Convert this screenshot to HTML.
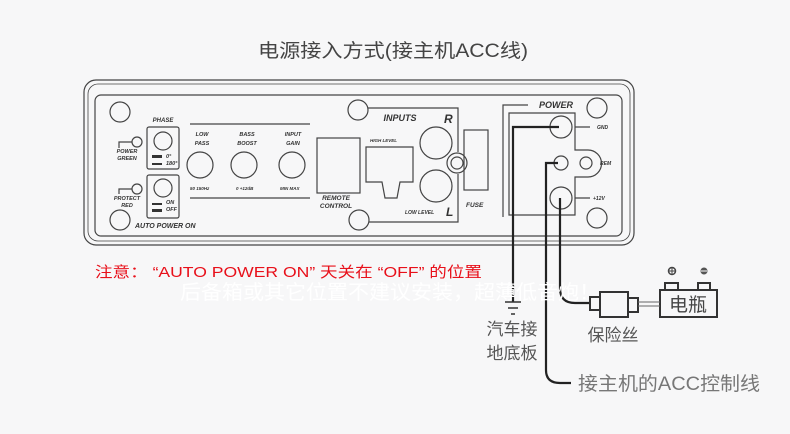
<!DOCTYPE html>
<html><head><meta charset="utf-8"><style>
html,body{margin:0;padding:0;background:#f7f7f8;}
svg{display:block}
.t{font-family:"Liberation Sans",sans-serif;font-style:italic;font-weight:bold;fill:#333}
.c{font-family:"Liberation Sans","Noto Sans CJK SC",sans-serif}
</style></head><body>
<svg width="790" height="434" viewBox="0 0 790 434" xmlns="http://www.w3.org/2000/svg">
<rect width="790" height="434" fill="#f7f7f8"/>
<text x="258" y="57" textLength="270" lengthAdjust="spacingAndGlyphs" class="c" font-size="19" fill="#444">电源接入方式(接主机ACC线)</text>
<g fill="none" stroke="#444" stroke-width="1.2">
<rect x="84" y="80" width="550" height="165" rx="12"/>
<rect x="88" y="84" width="542" height="157" rx="10" stroke-width="0.8"/>
<rect x="95" y="95" width="527" height="141" rx="6"/>
<circle cx="120" cy="112" r="10"/><circle cx="120" cy="220" r="10"/>
<circle cx="137" cy="142" r="5"/><path d="M132 142H119V148"/>
<circle cx="137" cy="189" r="5"/><path d="M132 189H119V194"/>
<rect x="147" y="127" width="32" height="42" rx="2"/><circle cx="163" cy="141" r="9"/>
<rect x="147" y="175" width="32" height="43" rx="2"/><circle cx="163" cy="188" r="9"/>
<path d="M190 124H310M190 198H310"/>
<circle cx="200" cy="165" r="13"/><circle cx="244" cy="165" r="13"/><circle cx="292" cy="165" r="13"/>
<rect x="317" y="138" width="43" height="55"/>
<circle cx="358" cy="110" r="10"/><circle cx="359" cy="220" r="10"/>
<path d="M368 108H458V152M458 174V222H369"/>
<circle cx="457" cy="163" r="10"/><circle cx="457" cy="163" r="6"/>
<path d="M366 147H413V182H400L397 198H385L382 182H366Z"/>
<circle cx="436" cy="143" r="16"/><circle cx="436" cy="186" r="16"/>
<rect x="464" y="130" width="24" height="60"/>
<path d="M528 105H503V217"/>
<path d="M509 113H575V150H588A13 13 0 0 1 588 177H575V215H509Z"/>
<circle cx="561" cy="127" r="11"/><circle cx="561" cy="163" r="7"/><circle cx="586" cy="163" r="6"/><circle cx="561" cy="198" r="11"/>
<path d="M575 127H590M575 198H590"/>
<circle cx="597" cy="108" r="10"/><circle cx="597" cy="218" r="10"/>
</g>
<g fill="#333"><rect x="152" y="155" width="10" height="3"/><rect x="152" y="163" width="10" height="2"/><rect x="152" y="203" width="10" height="2"/><rect x="152" y="209" width="10" height="3"/></g>
<g class="t" font-size="5.5">
<text x="163" y="122" text-anchor="middle" font-size="6">PHASE</text>
<text x="127" y="153" text-anchor="middle">POWER</text><text x="127" y="160" text-anchor="middle">GREEN</text>
<text x="127" y="200" text-anchor="middle">PROTECT</text><text x="127" y="207" text-anchor="middle">RED</text>
<text x="166" y="158">0°</text><text x="166" y="165">180°</text>
<text x="166" y="204">ON</text><text x="166" y="211">OFF</text>
<text x="135" y="228" font-size="7">AUTO POWER ON</text>
<text x="202" y="136" text-anchor="middle">LOW</text><text x="202" y="145" text-anchor="middle">PASS</text>
<text x="247" y="136" text-anchor="middle">BASS</text><text x="247" y="145" text-anchor="middle">BOOST</text>
<text x="293" y="136" text-anchor="middle">INPUT</text><text x="293" y="145" text-anchor="middle">GAIN</text>
<text x="190" y="190" font-size="4.5">50 150Hz</text><text x="236" y="190" font-size="4.5">0 +12dB</text><text x="280" y="190" font-size="4.5">MIN MAX</text>
<text x="336" y="200" text-anchor="middle" font-size="6.5">REMOTE</text><text x="336" y="208" text-anchor="middle" font-size="6.5">CONTROL</text>
<text x="400" y="121" text-anchor="middle" font-size="9">INPUTS</text>
<text x="444" y="123" font-size="12">R</text><text x="446" y="216" font-size="12">L</text>
<text x="370" y="142" font-size="4.5">HIGH LEVEL</text><text x="405" y="214" font-size="5">LOW LEVEL</text>
<text x="466" y="207" font-size="6.5">FUSE</text>
<text x="556" y="108" text-anchor="middle" font-size="9">POWER</text>
<text x="597" y="129" font-size="5">GND</text><text x="600" y="165" font-size="5">REM</text><text x="593" y="200" font-size="5">+12V</text>
</g>
<g fill="none" stroke="#222" stroke-width="2.2">
<path d="M559 127H513V302"/>
<path d="M558 163H546V370Q546 383 560 383H571"/>
<path d="M560 198V288Q560 303 575 303H590"/>
</g>
<g stroke="#333" stroke-width="1.5"><path d="M505 302H521M508 308H518M511 314H515"/></g>
<g fill="none" stroke="#333" stroke-width="2">
<rect x="590" y="297" width="10" height="13"/><rect x="600" y="292" width="28" height="25"/><rect x="628" y="298" width="10" height="14"/>
<rect x="660" y="290" width="57" height="27"/><rect x="665" y="283" width="13" height="7"/><rect x="698" y="283" width="12" height="7"/>
</g>
<g stroke="#666" stroke-width="1"><path d="M638 302H660M638 306H660"/></g>
<circle cx="672" cy="271" r="3.5" fill="none" stroke="#444" stroke-width="1.5"/><path d="M669 271h6M672 268v6" stroke="#444"/>
<circle cx="704" cy="271" r="3.5" fill="#555"/><path d="M701 271h6" stroke="#fff"/>
<text x="688" y="311" text-anchor="middle" class="c" font-size="19" fill="#444">电瓶</text>
<text x="613" y="341" text-anchor="middle" class="c" font-size="17" fill="#555">保险丝</text>
<text x="512" y="335" text-anchor="middle" class="c" font-size="17" fill="#555">汽车接</text>
<text x="512" y="359" text-anchor="middle" class="c" font-size="17" fill="#555">地底板</text>
<text x="578" y="390" textLength="182" lengthAdjust="spacingAndGlyphs" class="c" font-size="19" fill="#777">接主机的ACC控制线</text>
<text x="95" y="277" textLength="387" lengthAdjust="spacingAndGlyphs" class="c" font-size="15" fill="#e8101a">注意：  “AUTO POWER ON” 天关在 “OFF” 的位置</text>
<text x="180" y="299" textLength="420" lengthAdjust="spacingAndGlyphs" class="c" font-size="20" fill="#ffffff">后备箱或其它位置不建议安装，超薄低音炮！</text>
</svg>
</body></html>
